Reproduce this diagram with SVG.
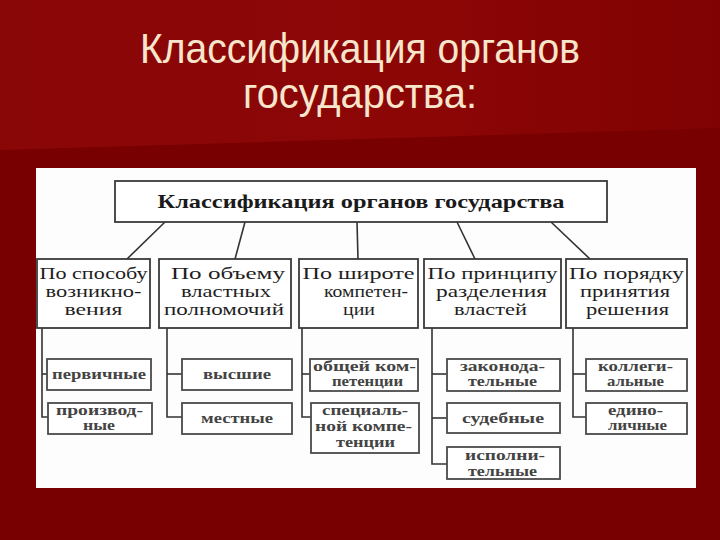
<svg xmlns="http://www.w3.org/2000/svg" width="720" height="540" viewBox="0 0 720 540">
<defs>
<linearGradient id="topg" x1="0" y1="0" x2="1" y2="0">
<stop offset="0" stop-color="#8a0707"/>
<stop offset="0.6" stop-color="#8c0606"/>
<stop offset="1" stop-color="#800202"/>
</linearGradient>
<style>
.title{font-family:"Liberation Sans","DejaVu Sans",sans-serif;font-size:43px;fill:#f8e6cc;text-anchor:middle}
.box{fill:#ffffff;stroke:#3a3a3a;stroke-width:1.8}
.sbox{fill:#ffffff;stroke:#4a4a4a;stroke-width:1.8}
.top{font-family:"Liberation Serif","DejaVu Serif",serif;font-size:19px;font-weight:bold;fill:#1a1a1a;text-anchor:middle}
.hdr{font-family:"Liberation Serif","DejaVu Serif",serif;font-size:17px;fill:#1e1e1e;text-anchor:middle}
.sm{font-family:"Liberation Serif","DejaVu Serif",serif;font-size:14px;font-weight:bold;fill:#444444;text-anchor:middle}
.ln{stroke:#333333;stroke-width:1.6;fill:none}
</style>
</defs>
<rect x="0" y="0" width="720" height="540" fill="#790000"/>
<polygon points="0,0 720,0 720,128 0,150" fill="url(#topg)"/>
<text class="title" x="360" y="63" textLength="440" lengthAdjust="spacingAndGlyphs">Классификация органов</text>
<text class="title" x="360" y="108" textLength="234" lengthAdjust="spacingAndGlyphs">государства:</text>
<rect x="36" y="168" width="660" height="320" fill="#fdfdfd"/>

<g id="connectors">
<line class="ln" x1="165" y1="222" x2="127" y2="259"/>
<line class="ln" x1="245" y1="222" x2="235" y2="259"/>
<line class="ln" x1="357" y1="222" x2="358" y2="259"/>
<line class="ln" x1="457" y1="222" x2="475" y2="259"/>
<line class="ln" x1="551" y1="222" x2="590" y2="259"/>
<polyline class="ln" points="42,328 42,417 48,417"/>
<line class="ln" x1="42" y1="374" x2="47" y2="374"/>
<polyline class="ln" points="167,328 167,417 182,417"/>
<line class="ln" x1="167" y1="374" x2="182" y2="374"/>
<polyline class="ln" points="302,328 302,417 311,417"/>
<line class="ln" x1="302" y1="374" x2="310" y2="374"/>
<polyline class="ln" points="432,328 432,464 447,464"/>
<line class="ln" x1="432" y1="374" x2="447" y2="374"/>
<line class="ln" x1="432" y1="418" x2="447" y2="418"/>
<polyline class="ln" points="573,328 573,417 586,417"/>
<line class="ln" x1="573" y1="374" x2="586" y2="374"/>
</g>

<g id="root">
<rect class="box" x="115" y="181" width="492" height="41"/>
<text class="top" x="361" y="208" textLength="407" lengthAdjust="spacingAndGlyphs">Классификация органов государства</text>
</g>

<g id="c1">
<rect class="box" x="37" y="259" width="113" height="69"/>
<text class="hdr" x="93.5" y="279" textLength="108" lengthAdjust="spacingAndGlyphs">По способу</text>
<text class="hdr" x="93.5" y="297" textLength="96" lengthAdjust="spacingAndGlyphs">возникно-</text>
<text class="hdr" x="93.5" y="315" textLength="58" lengthAdjust="spacingAndGlyphs">вения</text>
</g>
<g id="c2">
<rect class="box" x="159" y="259" width="132" height="69"/>
<text class="hdr" x="228" y="279" textLength="114" lengthAdjust="spacingAndGlyphs">По объему</text>
<text class="hdr" x="226" y="297" textLength="90" lengthAdjust="spacingAndGlyphs">властных</text>
<text class="hdr" x="224" y="315" textLength="120" lengthAdjust="spacingAndGlyphs">полномочий</text>
</g>
<g id="c3">
<rect class="box" x="299" y="259" width="119" height="69"/>
<text class="hdr" x="358.5" y="279" textLength="112" lengthAdjust="spacingAndGlyphs">По широте</text>
<text class="hdr" x="366" y="297" textLength="84" lengthAdjust="spacingAndGlyphs">компетен-</text>
<text class="hdr" x="359" y="315" textLength="32" lengthAdjust="spacingAndGlyphs">ции</text>
</g>
<g id="c4">
<rect class="box" x="424" y="259" width="137" height="69"/>
<text class="hdr" x="492.5" y="279" textLength="130" lengthAdjust="spacingAndGlyphs">По принципу</text>
<text class="hdr" x="491.5" y="297" textLength="111" lengthAdjust="spacingAndGlyphs">разделения</text>
<text class="hdr" x="490.5" y="315" textLength="73" lengthAdjust="spacingAndGlyphs">властей</text>
</g>
<g id="c5">
<rect class="box" x="566" y="259" width="121" height="69"/>
<text class="hdr" x="626.5" y="279" textLength="115" lengthAdjust="spacingAndGlyphs">По порядку</text>
<text class="hdr" x="625" y="297" textLength="90" lengthAdjust="spacingAndGlyphs">принятия</text>
<text class="hdr" x="627.5" y="315" textLength="83" lengthAdjust="spacingAndGlyphs">решения</text>
</g>

<g id="n-pervichnye">
<rect class="sbox" x="47" y="359" width="104" height="31"/>
<text class="sm" x="99" y="379" textLength="94" lengthAdjust="spacingAndGlyphs">первичные</text>
</g>
<g id="n-proizvodnye">
<rect class="sbox" x="48" y="403" width="104" height="31"/>
<text class="sm" x="99.5" y="415" textLength="87" lengthAdjust="spacingAndGlyphs">производ-</text>
<text class="sm" x="99" y="430" textLength="32" lengthAdjust="spacingAndGlyphs">ные</text>
</g>
<g id="n-vysshie">
<rect class="sbox" x="182" y="359" width="110" height="31"/>
<text class="sm" x="237" y="379" textLength="68" lengthAdjust="spacingAndGlyphs">высшие</text>
</g>
<g id="n-mestnye">
<rect class="sbox" x="182" y="403" width="110" height="31"/>
<text class="sm" x="237" y="423" textLength="72" lengthAdjust="spacingAndGlyphs">местные</text>
</g>
<g id="n-obshchey">
<rect class="sbox" x="310" y="359" width="108" height="32"/>
<text class="sm" x="364.5" y="371" textLength="103" lengthAdjust="spacingAndGlyphs">общей ком-</text>
<text class="sm" x="367.5" y="386" textLength="71" lengthAdjust="spacingAndGlyphs">петенции</text>
</g>
<g id="n-special">
<rect class="sbox" x="311" y="403" width="108" height="50"/>
<text class="sm" x="365" y="415" textLength="86" lengthAdjust="spacingAndGlyphs">специаль-</text>
<text class="sm" x="363.5" y="431" textLength="97" lengthAdjust="spacingAndGlyphs">ной компе-</text>
<text class="sm" x="365.5" y="447" textLength="59" lengthAdjust="spacingAndGlyphs">тенции</text>
</g>
<g id="n-zakonod">
<rect class="sbox" x="447" y="359" width="113" height="32"/>
<text class="sm" x="502.5" y="371" textLength="85" lengthAdjust="spacingAndGlyphs">законода-</text>
<text class="sm" x="502.5" y="386" textLength="69" lengthAdjust="spacingAndGlyphs">тельные</text>
</g>
<g id="n-sudebnye">
<rect class="sbox" x="447" y="403" width="113" height="30"/>
<text class="sm" x="503" y="423" textLength="82" lengthAdjust="spacingAndGlyphs">судебные</text>
</g>
<g id="n-ispolnit">
<rect class="sbox" x="447" y="447" width="113" height="32"/>
<text class="sm" x="505" y="460" textLength="80" lengthAdjust="spacingAndGlyphs">исполни-</text>
<text class="sm" x="502.5" y="476" textLength="69" lengthAdjust="spacingAndGlyphs">тельные</text>
</g>
<g id="n-kollegial">
<rect class="sbox" x="586" y="359" width="101" height="32"/>
<text class="sm" x="635.5" y="371" textLength="75" lengthAdjust="spacingAndGlyphs">коллеги-</text>
<text class="sm" x="635.5" y="386" textLength="57" lengthAdjust="spacingAndGlyphs">альные</text>
</g>
<g id="n-edinolich">
<rect class="sbox" x="586" y="403" width="101" height="31"/>
<text class="sm" x="635.5" y="415" textLength="55" lengthAdjust="spacingAndGlyphs">едино-</text>
<text class="sm" x="637.5" y="430" textLength="59" lengthAdjust="spacingAndGlyphs">личные</text>
</g>
</svg>
